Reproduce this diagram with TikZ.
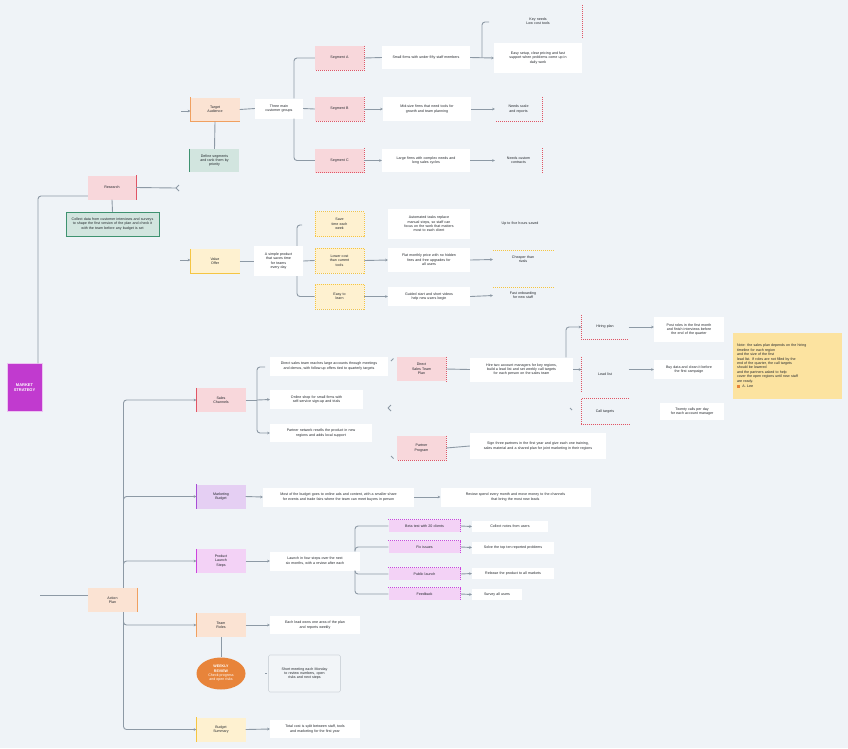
\documentclass[tikz,border=0pt]{standalone}
\usepackage{fontspec}
\setmainfont{Liberation Sans}
\usetikzlibrary{arrows.meta,positioning,shapes.geometric}
\definecolor{bgc}{HTML}{EFF3F7}
\definecolor{linkc}{HTML}{8D99A5}
\definecolor{rootc}{HTML}{C13ACF}
\definecolor{pinkc}{HTML}{F8D7DB}
\definecolor{redc}{HTML}{E05565}
\definecolor{orangec}{HTML}{FBE3D3}
\definecolor{orangeb}{HTML}{F0A060}
\definecolor{greenc}{HTML}{D2E5DF}
\definecolor{greenb}{HTML}{3E9270}
\definecolor{yellowc}{HTML}{FEF1D0}
\definecolor{yellowb}{HTML}{F5C542}
\definecolor{purplec}{HTML}{E5CFF3}
\definecolor{purpleb}{HTML}{A84DD6}
\definecolor{magc}{HTML}{F3D2F6}
\definecolor{magb}{HTML}{CC44DD}
\definecolor{ovalc}{HTML}{E8843A}
\definecolor{stickyc}{HTML}{FCE3A0}
\definecolor{notec}{HTML}{F2F5F8}
\definecolor{noteb}{HTML}{D0D6DC}
\definecolor{textc}{HTML}{22262B}

\begin{document}
\begin{tikzpicture}[x=1pt,y=-1pt,
  font=\fontsize{3.6}{4.4}\selectfont, text=textc,
  box/.style 2 args={inner sep=0pt, text width=#1pt, minimum height=#2pt, align=center},
  link/.style={draw=linkc, line width=0.9pt, rounded corners=3pt},
  arr/.style={link, -{Stealth[length=2.6pt,width=2.8pt]}},
  bar/.style={line width=1.1pt},
  dashln/.style={dash pattern=on 1pt off 1pt, line width=0.8pt}]
\fill[bgc] (0,0) rectangle (848,748);
\useasboundingbox (0,0) rectangle (848,748);
% root and first level
\node (root) [box={35}{48}, fill=rootc, text=white, draw=white!70!rootc, font=\fontsize{4}{4.8}\selectfont\bfseries] at (24.5,387.5) {MARKET\\STRATEGY};
\node (r1) [box={48}{24}, fill=pinkc] at (112,187.5) {Research};
\node (g1) [box={93}{24}, fill=greenc, draw=greenb, line width=0.5pt] at (112.5,224) {Collect data from customer interviews and surveys\\to shape the first version of the plan and check it\\with the team before any budget is set};
\node (o1) [box={49}{24}, fill=orangec] at (112.5,600) {Action\\Plan};
\draw[redc,bar] (r1.north east) -- (r1.south east);
\draw[greenb,bar] (g1.south west) -- (g1.south east) -- (g1.north east);
\draw[orangeb,bar] (o1.north east) -- (o1.south east);
%
\draw[link] ([xshift=13.5pt]root.north) |- ([yshift=-8.5pt]r1.west);
\coordinate (o1in) at (40,595);
\draw[link] (o1in) -- (o1in -| o1.west);
\draw[link] (r1.south) -- (g1.north);
\coordinate (r1fork) at (176,188);
\draw[link] (r1.east) -- (r1fork);
\draw[link] (r1fork) -- ++(3,-3) (r1fork) -- ++(3,3);

% branch: audience
\node (a) [box={49}{24}, fill=orangec] at (215,109.5) {Target\\Audience};
\node (ga) [box={49}{23}, fill=greenc] at (214.5,160.5) {Define segments\\and rank them by\\priority};
\node (a1) [box={48}{20}, fill=white] at (279,108.5) {Three main\\customer groups};
\draw[orangeb,bar] (a.north west) -- (a.south west) -- (a.south east);
\draw[greenb,bar] (ga.north west) -- (ga.south west);
\coordinate (ain) at (181,111);
\draw[arr] (ain) -- (ain -| a.west);
\draw[link] (a.south) -- (ga.north);
\draw[link] (a.east) -- (a1.west);
\foreach \n/\y/\t in {ra1/58/{Segment A},ra2/109/{Segment B},ra3/160.5/{Segment C}}
  \node (\n) [box={49}{24}, fill=pinkc] at (339.5,\y) {\t};
\foreach \n in {ra1,ra2,ra3}
  \draw[redc,dashln] (\n.north east) -- (\n.south east) -- (\n.south west);
\coordinate (atr) at (294,0);
\draw[link] (a1.north -| atr) |- (ra1.west);
\draw[link] (a1.south -| atr) |- (ra3.west);
\draw[link] (a1.east) -- (ra2.west);
\node (wa1) [box={88}{23}, fill=white] at (426,57.5) {Small firms with under fifty staff members};
\node (wa2) [box={88}{24}, fill=white] at (427,109) {Mid-size firms that need tools for\\growth and team planning};
\node (wa3) [box={88}{23}, fill=white] at (426,160.5) {Large firms with complex needs and\\long sales cycles};
\draw[link] (ra1.east) -- (wa1.west);
\draw[arr] (ra2.east) -- (wa2.west);
\draw[arr] (ra3.east) -- (wa3.west);
\node (ta0) [box={88}{32}] at (538,21) {Key needs\\Low cost tools};
\node (wa1b) [box={88}{30}, fill=white] at (538,58) {Easy setup, clear pricing and fast\\support when problems come up in\\daily work};
\node (ta2) [box={47}{24}] at (518.5,109) {Needs scale\\and reports};
\node (ta3) [box={47}{24}] at (518.5,160.5) {Needs custom\\contracts};
\draw[redc,dashln] (ta0.north east) -- (ta0.south east);
\draw[redc,dashln] (ta2.north east) -- (ta2.south east) -- (ta2.south west);
\draw[redc,dashln] (ta3.north east) -- (ta3.south east);
\coordinate (afork) at (482,57.5);
\coordinate (atop) at (489,22);
\draw[arr] (wa1.east) -- (wa1b.west);
\draw[link] (afork) |- (atop);
\draw[arr] (wa2.east) -- (ta2.west);
\draw[arr] (wa3.east) -- (ta3.west);

% branch: value
\node (b) [box={49}{24}, fill=yellowc] at (215,261) {Value\\Offer};
\node (b1) [box={49}{30}, fill=white] at (278.5,261) {A simple product\\that saves time\\for teams\\every day};
\draw[yellowb,bar] (b.north west) -- (b.south west) -- (b.south east);
\coordinate (bin) at (180,260);
\draw[arr] (bin) -- (bin -| b.west);
\draw[link] (b.east) -- (b1.west);
\foreach \n/\y/\t in {yb1/224/{Save\\time each\\week},yb2/260.5/{Lower cost\\than current\\tools},yb3/296.5/{Easy to\\learn}}
  \node (\n) [box={49}{25}, fill=yellowc, draw=yellowb, dashln] at (339.5,\y) {\t};
\coordinate (btr) at (297,0);
\coordinate (btop) at (302,225);
\draw[link] (b1.north -| btr) |- (btop);
\draw[link] (b1.south -| btr) |- (yb3.west);
\draw[link] (b1.east) -- (yb2.west);
\node (wb1) [box={82}{30}, fill=white] at (429,224) {Automated tasks replace\\manual steps, so staff can\\focus on the work that matters\\most to each client};
\node (wb2) [box={82}{24}, fill=white] at (429,260) {Flat monthly price with no hidden\\fees and free upgrades for\\all users};
\node (wb3) [box={82}{19}, fill=white] at (429,296.5) {Guided start and short videos\\help new users begin};
\draw[arr] (yb2.east) -- (wb2.west);
\draw[arr] (yb3.east) -- (wb3.west);
\node (tb1) [box={62}{10}] at (520,224) {Up to five hours saved};
\node (tb2) [box={60}{17}] at (523,259.5) {Cheaper than\\rivals};
\node (tb3) [box={60}{16}] at (523,295.5) {Fast onboarding\\for new staff};
\draw[yellowb,dashln] (tb2.north west) -- (tb2.north east);
\draw[yellowb,dashln] (tb3.north west) -- (tb3.north east);
\draw[arr] (wb2.east) -- (tb2.west);
\draw[arr] (wb3.east) -- (tb3.west);

% branch: action plan
\foreach \n/\y/\f/\t in {c1/400/pinkc/{Sales\\Channels},c2/496.5/purplec/{Marketing\\Budget},c3/561/magc/{Product\\Launch\\Steps},c4/625/orangec/{Team\\Roles},c5/729.5/yellowc/{Budget\\Summary}}
  \node (\n) [box={49}{24}, fill=\f] at (221,\y) {\t};
\draw[redc,bar] (c1.north west) -- (c1.south west);
\draw[purpleb,bar] (c2.north west) -- (c2.south west);
\draw[magb,bar] (c3.north west) -- (c3.south west);
\draw[orangeb,bar] (c4.north west) -- (c4.south west);
\draw[yellowb,bar] (c5.north west) -- (c5.south west);
\coordinate (otr) at (123.5,0);
\foreach \n in {c1,c2,c3}
  \draw[arr] (o1.north -| otr) |- (\n.west);
\foreach \n in {c4,c5}
  \draw[arr] (o1.south -| otr) |- (\n.west);

% sales channels
\node (wc1) [box={118}{19}, fill=white] at (329,366) {Direct sales team reaches large accounts through meetings\\and demos, with follow-up offers tied to quarterly targets};
\node (wc2) [box={93}{19}, fill=white] at (316.5,399.5) {Online shop for small firms with\\self-service sign-up and trials};
\node (wc3) [box={102}{18}, fill=white] at (321,433) {Partner network resells the product in new\\regions and adds local support};
\coordinate (ctr) at (257,400);
\coordinate (ctop) at (265,367);
\draw[link] (c1.east) -- (ctr);
\draw[link] (ctr) |- (ctop);
\draw[arr] (ctr) |- (wc3.west);
\draw[arr] (ctr) -- (wc2.west);
\node (c1a) [box={49}{24}, fill=pinkc] at (421.5,369) {Direct\\Sales Team\\Plan};
\node (c1b) [box={49}{24}, fill=pinkc] at (421.5,448) {Partner\\Program};
\draw[redc,dashln] (c1a.north east) -- (c1a.south east);
\draw[redc,dashln] (c1b.north east) -- (c1b.south east) -- (c1b.south west);
\coordinate (c1ain) at (391,361);
\coordinate (c1bin) at (391,456);
\coordinate (cmid) at (388,408);
\draw[link] (c1ain) -- ++(2.5,-2.5);
\draw[link] (c1bin) -- ++(2.5,2.5);
\draw[link] (cmid) -- ++(3,-3) (cmid) -- ++(3,3);
\node (wd1) [box={103}{24}, fill=white] at (521.5,369.5) {Hire two account managers for key regions,\\build a lead list and set weekly call targets\\for each person on the sales team};
\node (wd2) [box={136}{26}, fill=white] at (538,446) {Sign three partners in the first year and give each one training,\\sales material and a shared plan for joint marketing in their regions};
\draw[link] (c1a.east) -- (wd1.west);
\draw[link] (c1b.east) -- (wd2.west);
\node (te1) [box={47}{24}] at (605,327) {Hiring plan};
\node (te2) [box={47}{34}] at (605,374) {Lead list};
\node (te3) [box={47}{25}] at (605,411.5) {Call targets};
\draw[redc,dashln] (te1.north west) -- (te1.south west) -- (te1.south east);
\draw[redc,dashln] (te2.north west) -- (te2.south west);
\draw[redc,dashln] (te3.north east) -- (te3.north west) -- (te3.south west) -- (te3.south east);
\coordinate (dtr) at (566,0);
\draw[arr] (wd1.north -| dtr) |- (te1.west);
\draw[arr] (wd1.east) -- (te2.west |- wd1.east);
\coordinate (te3in) at (570,408);
\draw[link] (te3in) -- ++(2,2);
\node (we1) [box={70}{25}, fill=white] at (689,329.5) {Post roles in the first month\\and finish interviews before\\the end of the quarter};
\node (we2) [box={70}{19}, fill=white] at (689,369.5) {Buy data and clean it before\\the first campaign};
\node (we3) [box={64}{17}, fill=white] at (692,411.5) {Twenty calls per day\\for each account manager};
\draw[arr] (te1.east) -- (we1.west |- te1.east);
\draw[arr] (te2.east |- wd1.east) -- (we2.west);
\node (sticky) [box={101}{66}, fill=stickyc, align=left, inner xsep=4pt] at (787.5,366) {Note: the sales plan depends on the hiring\\timeline for each region\\and the size of the first\\lead list. If roles are not filled by the\\end of the quarter, the call targets\\should be lowered\\and the partners asked to help\\cover the open regions until new staff\\are ready.\\[1pt]\textcolor{ovalc}{\rule{3pt}{3pt}} \ A. Lee};

% marketing budget
\node (wf1) [box={151}{19}, fill=white] at (338.5,497) {Most of the budget goes to online ads and content, with a smaller share\\for events and trade fairs where the team can meet buyers in person};
\node (wf2) [box={150}{19}, fill=white] at (515.5,497) {Review spend every month and move money to the channels\\that bring the most new leads};
\draw[arr] (c2.east) -- (wf1.west);
\draw[arr] (wf1.east) -- (wf2.west);

% launch steps
\node (wg) [box={90}{19}, fill=white] at (315,561) {Launch in four steps over the next\\six months, with a review after each};
\draw[arr] (c3.east) -- (wg.west);
\foreach \n/\y/\t in {pg1/526/{Beta test with 20 clients},pg2/547/{Fix issues},pg3/574/{Public launch},pg4/594/{Feedback}}
  \node (\n) [box={72}{12}, fill=magc] at (424.5,\y) {\t};
\foreach \n in {pg1,pg2,pg3,pg4}
  \draw[magb,dashln] (\n.north west) -- (\n.north east) -- (\n.south east);
\coordinate (gtr) at (355,0);
\draw[link] (wg.north -| gtr) |- (pg1.west);
\draw[link] (wg.north -| gtr) |- (pg2.west);
\draw[link] (wg.south -| gtr) |- (pg3.west);
\draw[link] (wg.south -| gtr) |- (pg4.west);
\node (wg1) [box={76}{11}, fill=white] at (510,526.5) {Collect notes from users};
\node (wg2) [box={82}{12}, fill=white] at (513,547.5) {Solve the top ten reported problems};
\node (wg3) [box={82}{11}, fill=white] at (513,573.5) {Release the product to all markets};
\node (wg4) [box={50}{11}, fill=white] at (497,594.5) {Survey all users};
\foreach \a/\b in {pg1/wg1,pg2/wg2,pg3/wg3,pg4/wg4}
  \draw[arr] (\a.east) -- (\b.west);

% team roles
\node (wh) [box={90}{18}, fill=white] at (315,625) {Each lead owns one area of the plan\\and reports weekly};
\draw[arr] (c4.east) -- (wh.west);
\node (el) [ellipse, fill=ovalc, text=white, inner sep=0pt, minimum width=49pt, minimum height=32pt, align=center] at (221,673.5) {\textbf{WEEKLY}\\\textbf{REVIEW}\\Check progress\\and open risks};
\draw[link] (c4.south) -- (el.north);
\node (nh) [box={72}{37}, fill=notec, draw=noteb, line width=0.6pt, rounded corners=1.5pt] at (304.5,673.5) {Short meeting each Monday\\to review numbers, open\\risks and next steps};
\coordinate (nhin) at (265,673.5);
\draw[link] (nhin) -- ++(1.5,0);

% budget summary
\node (wi) [box={90}{18}, fill=white] at (315,729) {Total cost is split between staff, tools\\and marketing for the first year};
\draw[arr] (c5.east) -- (wi.west);
\end{tikzpicture}
\end{document}
